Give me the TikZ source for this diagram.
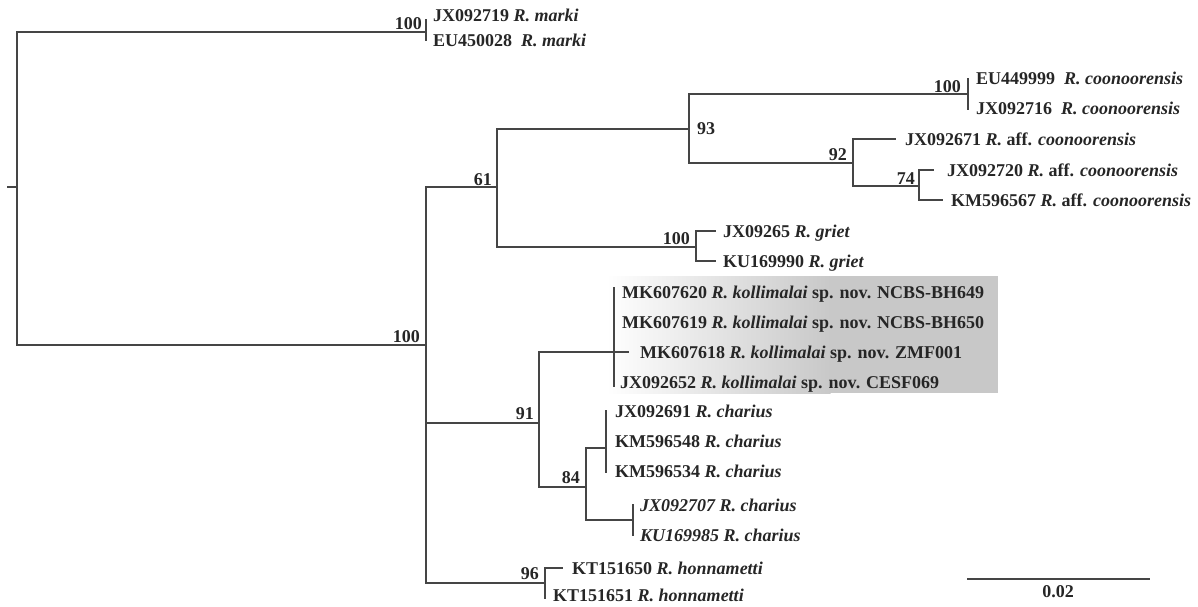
\documentclass[tikz,border=0pt]{standalone}
\usepackage{fontspec}
\setmainfont{Liberation Serif}
\newcommand\lblfont{\bfseries\fontsize{18}{21}\selectfont}
\definecolor{boxgray}{HTML}{C8C8C8}
\definecolor{linegray}{HTML}{454545}
\tikzset{
  br/.style={line width=1.4pt, draw=linegray, line cap=rect},
  tip/.style={anchor=base west, inner sep=0pt, font=\lblfont, text=black!85},
  bs/.style={anchor=base east, inner sep=0pt, font=\lblfont, text=black!85},
}
\begin{document}
\begin{tikzpicture}[x=1pt,y=-1pt]
\useasboundingbox (0,0) rectangle (1198,606);
% highlight box
\shade[left color=white, right color=boxgray] (606,276) rectangle (830.5,393);
\fill[boxgray] (830,276) rectangle (998,393);

% internal nodes
\coordinate (stub) at (8,187);
\coordinate (root) at (17,187);
\coordinate (nM) at (426,32);
\coordinate (nA) at (426,345);
\coordinate (n61) at (497,187);
\coordinate (n93) at (689,129);
\coordinate (nC) at (968,94);
\coordinate (n92) at (853,163);
\coordinate (n74) at (919,186);
\coordinate (nG) at (696,247);
\coordinate (n91) at (539,423);
\coordinate (nK) at (614,352);
\coordinate (n84) at (586,487);
\coordinate (nCh1) at (606,448);
\coordinate (nCh2) at (633,520);
\coordinate (n96) at (545,583);
% tip ends
\coordinate (m1) at (426,20);  \coordinate (m2) at (426,40);
\coordinate (c1) at (968,79);  \coordinate (c2) at (968,109);
\coordinate (e5) at (895,139);
\coordinate (e6) at (933,170);
\coordinate (e7) at (942,200);
\coordinate (e8) at (715,231);
\coordinate (e9) at (715,261);
\coordinate (k1) at (614,288); \coordinate (k4) at (614,386);
\coordinate (e12) at (628,352);
\coordinate (h1) at (606,411); \coordinate (h3) at (606,472);
\coordinate (j1) at (633,505); \coordinate (j2) at (633,535);
\coordinate (e19) at (562,568);
\coordinate (e20) at (545,598);
\coordinate (sb1) at (967,579); \coordinate (sb2) at (1150,579);

% branches
\draw[br] (stub) -- (root);
\draw[br] (root) |- (nM);
\draw[br] (root) |- (nA);
\draw[br] (m1) -- (m2);
\draw[br] (nA) |- (n61);
\draw[br] (nA) |- (n96);
\draw[br] (nA) |- (n91);
\draw[br] (n61) |- (n93);
\draw[br] (n61) |- (nG);
\draw[br] (n93) |- (nC);
\draw[br] (n93) |- (n92);
\draw[br] (c1) -- (c2);
\draw[br] (n92) |- (e5);
\draw[br] (n92) |- (n74);
\draw[br] (n74) |- (e6);
\draw[br] (n74) |- (e7);
\draw[br] (nG) |- (e8);
\draw[br] (nG) |- (e9);
\draw[br] (n91) |- (nK);
\draw[br] (n91) |- (n84);
\draw[br] (k1) -- (k4);
\draw[br] (nK) -- (e12);
\draw[br] (n84) |- (nCh1);
\draw[br] (n84) |- (nCh2);
\draw[br] (h1) -- (h3);
\draw[br] (j1) -- (j2);
\draw[br] (n96) |- (e19);
\draw[br] (n96) -- (e20);
\draw[br, line cap=butt] (sb1) -- (sb2);

% tip labels
\node[tip] (t1) at (433,21) {JX092719 \textit{R. marki}};
\node[tip] (t2) at (433,46) {EU450028\ \ \textit{R. marki}};
\node[tip] (t3) at (976,84) {EU449999\ \ \textit{R. coonoorensis}};
\node[tip] (t4) at (976,114) {JX092716\ \ \textit{R. coonoorensis}};
\node[tip] (t5) at (905,145) {JX092671 \textit{R.} aff. \textit{coonoorensis}};
\node[tip] (t6) at (947,176) {JX092720 \textit{R.} aff. \textit{coonoorensis}};
\node[tip] (t7) at (951,206) {KM596567 \textit{R.} aff. \textit{coonoorensis}};
\node[tip] (t8) at (723,237) {JX09265 \textit{R. griet}};
\node[tip] (t9) at (723,267) {KU169990 \textit{R. griet}};
\node[tip] (t10) at (622,298) {MK607620 \textit{R. kollimalai} sp. nov. NCBS-BH649};
\node[tip] (t11) at (622,328) {MK607619 \textit{R. kollimalai} sp. nov. NCBS-BH650};
\node[tip] (t12) at (640,358) {MK607618 \textit{R. kollimalai} sp. nov. ZMF001};
\node[tip] (t13) at (620,388) {JX092652 \textit{R. kollimalai} sp. nov. CESF069};
\node[tip] (t14) at (615,417) {JX092691 \textit{R. charius}};
\node[tip] (t15) at (615,447) {KM596548 \textit{R. charius}};
\node[tip] (t16) at (615,477) {KM596534 \textit{R. charius}};
\node[tip] (t17) at (640,511) {\textit{JX092707 R. charius}};
\node[tip] (t18) at (640,541) {\textit{KU169985 R. charius}};
\node[tip] (t19) at (572,574) {KT151650 \textit{R. honnametti}};
\node[tip] (t20) at (553,601) {KT151651 \textit{R. honnametti}};

% bootstrap values
\node[bs] (b1) at (422,29) {100};
\node[bs] (b2) at (420,342) {100};
\node[bs] (b3) at (492,185) {61};
\node[tip] (b4) at (697,134) {93};
\node[bs] (b5) at (961,92) {100};
\node[bs] (b6) at (847,160) {92};
\node[bs] (b7) at (915,184) {74};
\node[bs] (b8) at (690,244) {100};
\node[bs] (b9) at (534,419) {91};
\node[bs] (b10) at (580,483) {84};
\node[bs] (b11) at (539,579) {96};

% scale
\node[anchor=base, inner sep=0pt, font=\lblfont, text=black!85] (sc) at (1058,597) {0.02};
\end{tikzpicture}
\end{document}
